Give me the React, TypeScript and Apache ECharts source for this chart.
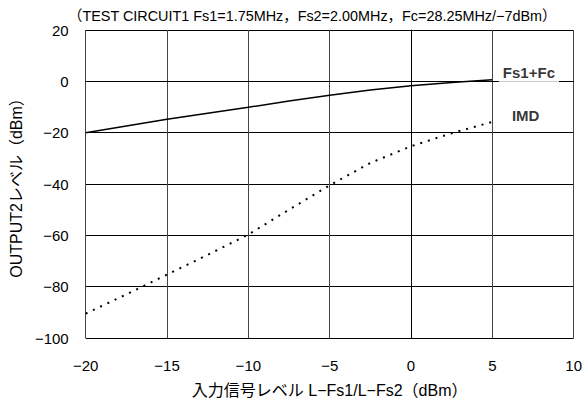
import React, { useEffect, useRef } from "react";
import * as echarts from "echarts";

const inputLevels = [-20, -17.5, -15, -12.5, -10, -7.5, -5, -2.5, 0, 2.5, 5];
const fs1FcValues = [-20, -17.4, -14.8, -12.4, -10.1, -7.7, -5.4, -3.4, -1.7, -0.5, 0.6];
const imdValues = [-90.5, -83, -75.3, -67.6, -59.7, -50, -40.5, -31.8, -25.3, -20.2, -15.8];
const seriesLabels: [number, number, string][] = [
  [7.25, 3.4, "Fs1+Fc"],
  [7.05, -13.4, "IMD"],
];
const titleText = "（TEST CIRCUIT1 Fs1=1.75MHz，Fs2=2.00MHz，Fc=28.25MHz/\u22127dBm）";
const xAxisName = "入力信号レベル L\u2212Fs1/L\u2212Fs2（dBm）";
const yAxisName = "OUTPUT2レベル（dBm）";

const FONT = "'Liberation Sans', 'Noto Sans CJK JP', sans-serif";
const minusFmt = (v: number) => String(v).replace("-", "\u2212");

export default function App() {
  const ref = useRef<HTMLDivElement>(null);
  useEffect(() => {
    document.body.style.margin = "0";
    if (!ref.current) return;
    const chart = echarts.init(ref.current, null, { renderer: "svg" });
    chart.setOption({
      animation: false,
      backgroundColor: "#fff",
      textStyle: { fontFamily: FONT },
      title: {
        text: titleText,
        left: 63,
        top: 4,
        textStyle: { fontSize: 14.4, fontWeight: "normal", color: "#000", fontFamily: FONT },
      },
      grid: { left: 82, right: 8, top: 30, bottom: 63 },
      xAxis: {
        type: "value",
        min: -20,
        max: 10,
        interval: 5,
        name: xAxisName,
        nameLocation: "middle",
        nameGap: 44,
        nameTextStyle: { fontSize: 16, color: "#000", fontFamily: FONT },
        axisLine: { show: true, lineStyle: { color: "#000", width: 1 } },
        axisTick: { show: false },
        axisLabel: { fontSize: 15, color: "#000", margin: 20, formatter: minusFmt, fontFamily: FONT },
        splitLine: { show: true, lineStyle: { color: "#444", width: 1 } },
      },
      yAxis: {
        type: "value",
        min: -100,
        max: 20,
        interval: 20,
        name: yAxisName,
        nameLocation: "middle",
        nameGap: 61,
        nameTextStyle: { fontSize: 16, color: "#000", fontFamily: FONT },
        axisLine: { show: true, lineStyle: { color: "#000", width: 1 } },
        axisTick: { show: false },
        axisLabel: { fontSize: 15, color: "#000", margin: 17, formatter: minusFmt, fontFamily: FONT },
        splitLine: { show: true, lineStyle: { color: "#000", width: 1 } },
      },
      series: [
        {
          type: "line",
          data: inputLevels.map((x, i) => [x, fs1FcValues[i]]),
          showSymbol: false,
          symbol: "none",
          lineStyle: { color: "#000", width: 1.5 },
        },
        {
          type: "line",
          data: inputLevels.map((x, i) => [x, imdValues[i]]),
          showSymbol: false,
          symbol: "none",
          lineStyle: { color: "#000", width: 2, type: [2, 6] },
        },
        {
          type: "scatter",
          symbolSize: 0,
          data: seriesLabels.map((d) => ({ value: [d[0], d[1]], name: d[2] })),
          label: {
            show: true,
            position: "inside",
            formatter: (p: any) => p.name,
            fontSize: 15,
            fontWeight: "bold",
            color: "#000",
            backgroundColor: "#fff",
            padding: [3, 4, 5, 4],
            fontFamily: FONT,
          },
        },
      ],
    });
    return () => chart.dispose();
  }, []);
  return <div ref={ref} style={{ width: 585, height: 403 }} />;
}
